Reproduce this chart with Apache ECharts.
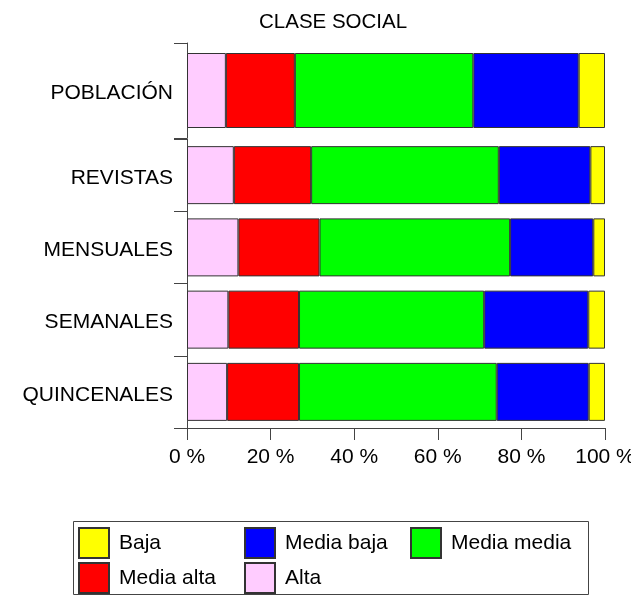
<!DOCTYPE html>
<html>
<head>
<meta charset="utf-8">
<script src="https://cdn.jsdelivr.net/npm/echarts@6/dist/echarts.min.js"></script>
<style>html,body{margin:0;padding:0;background:#fff}#c{width:631px;height:598px}</style>
</head>
<body>
<div id="c"></div>
<script>
// Categories, top to bottom (first one is the reference population)
const categories = ['POBLACIÓN', 'REVISTAS', 'MENSUALES', 'SEMANALES', 'QUINCENALES'];
// Share (%) of each social class, in the same order as categories
const alta       = [9.3, 11.2, 12.3, 9.9, 9.6];
const mediaAlta  = [16.5, 18.5, 19.4, 16.9, 17.2];
const mediaMedia = [42.7, 44.9, 45.6, 44.3, 47.3];
const mediaBaja  = [25.2, 21.9, 19.9, 24.9, 22.0];
const baja       = [6.3, 3.5, 2.8, 4.0, 3.9];
const xTicks = [0, 20, 40, 60, 80, 100];

const classes = [
  { name: 'Alta', data: alta, color: '#FFCCFF' },
  { name: 'Media alta', data: mediaAlta, color: '#FF0000' },
  { name: 'Media media', data: mediaMedia, color: '#00FF00' },
  { name: 'Media baja', data: mediaBaja, color: '#0000FF' },
  { name: 'Baja', data: baja, color: '#FFFF00' }
];

const FONT = "'Liberation Sans', Arial, Helvetica, sans-serif";
const axisColor = '#444';

const series = [];
classes.forEach(c => {
  series.push({
    name: c.name, type: 'bar', stack: 'top', xAxisIndex: 0, yAxisIndex: 0,
    barWidth: 75, data: c.data.slice(0, 1),
    itemStyle: { color: c.color, borderColor: '#333', borderWidth: 1 },
    emphasis: { disabled: true }, animation: false
  });
  series.push({
    name: c.name, type: 'bar', stack: 'bottom', xAxisIndex: 1, yAxisIndex: 1,
    barWidth: 58, data: c.data.slice(1),
    itemStyle: { color: c.color, borderColor: '#333', borderWidth: 1 },
    emphasis: { disabled: true }, animation: false
  });
});

function legendItem(name, left, top) {
  return {
    data: [name], left: left, top: top, padding: 0,
    itemWidth: 30, itemHeight: 30, icon: 'rect',
    selectedMode: false,
    textStyle: { fontSize: 21, color: '#000', fontFamily: FONT, padding: [0, 0, 0, 5] }
  };
}

const yAxisCommon = {
  type: 'category', inverse: true,
  axisLine: { show: true, lineStyle: { color: axisColor, width: 1 } },
  axisTick: { show: true, length: 13, lineStyle: { color: axisColor } },
  axisLabel: { fontSize: 21, color: '#000', fontFamily: FONT, margin: 14, verticalAlign: 'top', lineHeight: 6 },
  splitLine: { show: false }
};

const option = {
  animation: false,
  title: {
    text: 'CLASE SOCIAL', left: 259, top: 12, padding: 0,
    textStyle: { fontSize: 20.5, fontWeight: 'normal', color: '#000', fontFamily: FONT }
  },
  grid: [
    { left: 187, right: 26, top: 43, height: 95, outerBoundsMode: 'none', containLabel: false },
    { left: 187, right: 26, top: 139, height: 289, outerBoundsMode: 'none', containLabel: false }
  ],
  xAxis: [
    { gridIndex: 0, type: 'value', min: 0, max: 100, show: false },
    {
      gridIndex: 1, type: 'value', min: xTicks[0], max: xTicks[xTicks.length - 1], interval: 20,
      axisLine: { show: true, lineStyle: { color: axisColor, width: 1 } },
      axisTick: { show: true, length: 12, lineStyle: { color: axisColor } },
      axisLabel: { fontSize: 21, color: '#000', fontFamily: FONT, margin: 19, formatter: '{value} %', hideOverlap: false },
      splitLine: { show: false }
    }
  ],
  yAxis: [
    Object.assign({}, yAxisCommon, { gridIndex: 0, data: categories.slice(0, 1) }),
    Object.assign({}, yAxisCommon, { gridIndex: 1, data: categories.slice(1) })
  ],
  legend: [
    legendItem('Baja', 78, 527),
    legendItem('Media baja', 244, 527),
    legendItem('Media media', 410, 527),
    legendItem('Media alta', 78, 562),
    legendItem('Alta', 244, 562)
  ],
  graphic: [{
    type: 'rect', silent: true,
    shape: { x: 73.5, y: 521.5, width: 515, height: 73 },
    style: { fill: 'none', stroke: '#444', lineWidth: 1 }
  }],
  series: series
};

const chart = echarts.init(document.getElementById('c'), null, { renderer: 'canvas' });
chart.setOption(option);
</script>
</body>
</html>
